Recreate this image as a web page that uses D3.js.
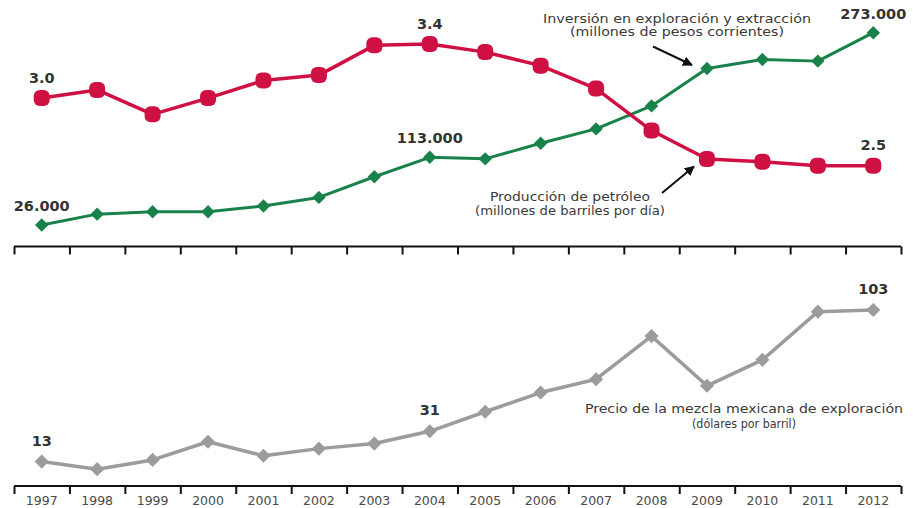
<!DOCTYPE html>
<html>
<head>
<meta charset="utf-8">
<script src="https://cdn.jsdelivr.net/npm/d3@7"></script>
<style>
  html, body { margin: 0; padding: 0; background: #ffffff; }
  svg { display: block; }
</style>
</head>
<body>
<svg id="chart" width="913" height="508"></svg>
<script>
// Years on the shared horizontal axis
const years = ["1997","1998","1999","2000","2001","2002","2003","2004",
               "2005","2006","2007","2008","2009","2010","2011","2012"];

// Producción de petróleo (millones de barriles por día)
const production = [3.0, 3.06, 2.88, 3.0, 3.13, 3.17, 3.39, 3.4,
                    3.34, 3.24, 3.07, 2.76, 2.55, 2.53, 2.5, 2.5];

// Inversión en exploración y extracción (millones de pesos corrientes)
const investment = [26000, 40000, 43000, 43000, 50500, 61500, 88000, 113000,
                    111000, 131000, 149500, 179000, 227000, 238500, 236500, 273000];

// Precio de la mezcla mexicana de exportación (dólares por barril)
const price = [13, 8.5, 14, 24.8, 16.5, 20.7, 23.7, 31,
               42.6, 54, 61.9, 87.5, 58, 73.4, 102, 103];

// Points that carry a value label
const productionLabeled = ["1997", "2004", "2012"];
const investmentLabeled = ["1997", "2004", "2012"];
const priceLabeled = ["1997", "2004", "2012"];

const RED = "#cf1042", GREEN = "#18824a", GREY = "#9c9c9c", INK = "#333333";

const svg = d3.select("#chart");

const x = d3.scaleBand().domain(years).range([14, 901]).padding(0);
const cx = d => x(d) + x.bandwidth() / 2;

const yProd = d3.scaleLinear().domain([2.5, 3.4]).range([165.7, 44]);
const yInv = d3.scaleLinear().domain([0, 273000]).range([245.3, 32.7]);
const yPrice = d3.scaleLinear().domain([0, 103]).range([483.5, 310]);

const fmtProd = d3.format(".1f");
const fmtInv = d3.formatLocale({ decimal: ",", thousands: ".", grouping: [3], currency: ["$", ""] }).format(",d");
const fmtPrice = d3.format("d");

// Band-edge ticks for both axes
const edges = years.map(y => x(y)).concat([x.range()[1]]);
const edgeScale = d3.scaleLinear().domain([0, 1]).range([0, 1]);

function drawAxis(yPos) {
  const g = svg.append("g").attr("transform", `translate(0,${yPos})`);
  g.call(d3.axisBottom(edgeScale).tickValues(edges).tickSize(8).tickSizeOuter(0).tickFormat(""));
  g.select(".domain").attr("d", `M${edges[0]},0H${edges[edges.length - 1]}`)
    .attr("stroke", "#111").attr("stroke-width", 2);
  g.selectAll(".tick line").attr("stroke", "#111").attr("stroke-width", 2);
  return g;
}

drawAxis(246.5);
drawAxis(486);

// Year labels centred in each band
svg.append("g").selectAll("text").data(years).join("text")
  .attr("x", d => cx(d)).attr("y", 504.5)
  .attr("text-anchor", "middle")
  .attr("font-family", "DejaVu Sans, sans-serif")
  .attr("font-size", 12.5)
  .attr("fill", "#4a4a4a")
  .text(d => d);

// Series helpers
function drawLine(values, yScale, color, width) {
  const line = d3.line().x((d, i) => cx(years[i])).y(d => yScale(d));
  svg.append("path").datum(values)
    .attr("d", line)
    .attr("fill", "none")
    .attr("stroke", color)
    .attr("stroke-width", width)
    .attr("stroke-linejoin", "round");
}

function drawDiamonds(values, yScale, color, side) {
  svg.append("g").selectAll("rect").data(values).join("rect")
    .attr("x", -side / 2).attr("y", -side / 2)
    .attr("width", side).attr("height", side)
    .attr("fill", color)
    .attr("transform", (d, i) => `translate(${cx(years[i])},${yScale(d)}) rotate(45)`);
}

function drawLabels(values, yScale, labeled, fmt, offset) {
  svg.append("g").selectAll("text")
    .data(values.map((v, i) => ({ year: years[i], v })).filter(d => labeled.includes(d.year)))
    .join("text")
    .attr("x", d => cx(d.year))
    .attr("y", d => yScale(d.v) - offset)
    .attr("text-anchor", "middle")
    .attr("font-family", "DejaVu Sans, sans-serif")
    .attr("font-weight", "bold")
    .attr("font-size", 14.5)
    .attr("fill", INK)
    .text(d => fmt(d.v));
}

// Investment (green)
drawLine(investment, yInv, GREEN, 3);
drawDiamonds(investment, yInv, GREEN, 9.5);

// Production (red)
drawLine(production, yProd, RED, 3.5);
svg.append("g").selectAll("rect").data(production).join("rect")
  .attr("x", (d, i) => cx(years[i]) - 8)
  .attr("y", d => yProd(d) - 8)
  .attr("width", 16).attr("height", 16)
  .attr("rx", 6)
  .attr("fill", RED);

// Price (grey)
drawLine(price, yPrice, GREY, 3.5);
drawDiamonds(price, yPrice, GREY, 10);

drawLabels(production, yProd, productionLabeled, fmtProd, 15.5);
drawLabels(investment, yInv, investmentLabeled, fmtInv, 14);
drawLabels(price, yPrice, priceLabeled, fmtPrice, 16);

// Annotations (a null width keeps the text at its natural length)
function note(lines, anchorX, firstBaseline, lineGap, widths, size) {
  const g = svg.append("g");
  lines.forEach((t, i) => {
    const el = g.append("text")
      .attr("x", anchorX).attr("y", firstBaseline + i * lineGap)
      .attr("text-anchor", "middle")
      .attr("font-family", "DejaVu Sans Condensed, DejaVu Sans, sans-serif")
      .attr("font-size", size)
      .attr("fill", "#3a3a3a")
      .text(t);
    if (widths[i] != null) {
      el.attr("textLength", widths[i]).attr("lengthAdjust", "spacingAndGlyphs");
    }
  });
}

note(["Inversión en exploración y extracción", "(millones de pesos corrientes)"], 677, 22.5, 13, [268, 214], 11.5);
note(["Producción de petróleo", "(millones de barriles por día)"], 570, 200.5, 14.5, [160, 190], 11.5);
note(["Precio de la mezcla mexicana de exploración", "(dólares por barril)"], 744, 412.5, 15, [318, 104], 13);

// Pointer arrows
svg.append("defs").append("marker")
  .attr("id", "head").attr("viewBox", "0 0 10 10")
  .attr("refX", 9).attr("refY", 5)
  .attr("markerWidth", 5).attr("markerHeight", 5)
  .attr("orient", "auto")
  .append("path").attr("d", "M0,0L10,5L0,10Z").attr("fill", "#111");

const arrows = [
  { from: [653, 46.5], to: [692, 65] },
  { from: [662, 193], to: [694, 166.5] }
];
svg.append("g").selectAll("line").data(arrows).join("line")
  .attr("x1", d => d.from[0]).attr("y1", d => d.from[1])
  .attr("x2", d => d.to[0]).attr("y2", d => d.to[1])
  .attr("stroke", "#111").attr("stroke-width", 2)
  .attr("marker-end", "url(#head)");
</script>
</body>
</html>
